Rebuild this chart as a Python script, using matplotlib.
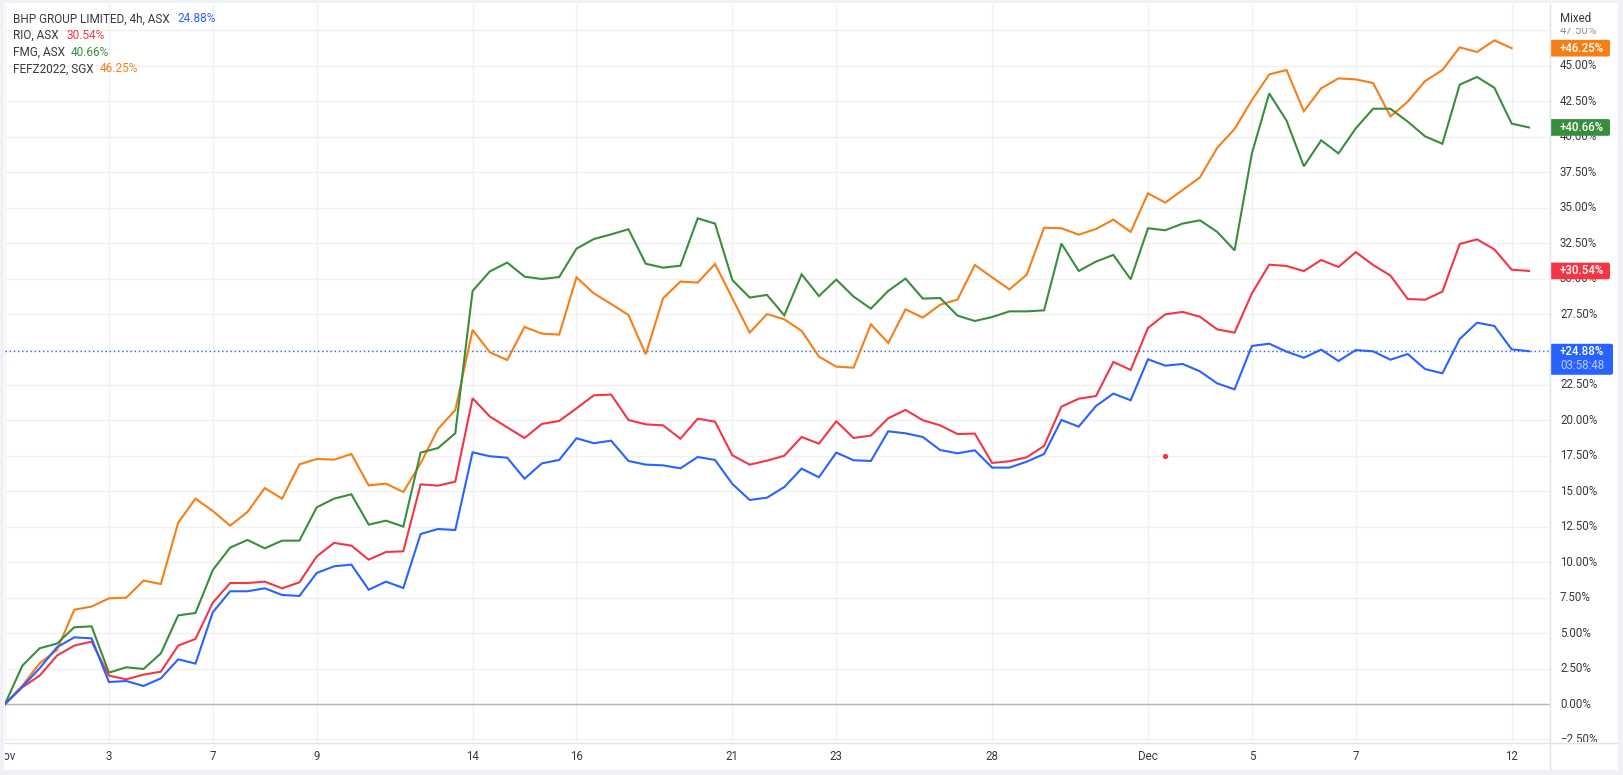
import numpy as np
import matplotlib
matplotlib.use('Agg')
import matplotlib.pyplot as plt
from matplotlib.patches import FancyBboxPatch
from matplotlib.transforms import Bbox, IdentityTransform

W, H = 1624, 775

# percent change per 4h bar
bhp = [0.0, 1.22, 2.52, 4.0, 4.70, 4.63, 1.55, 1.62, 1.27, 1.81, 3.15, 2.85, 6.47, 7.95, 7.95, 8.16, 7.69, 7.62,
       9.24, 9.71, 9.83, 8.06, 8.63, 8.18, 11.99, 12.34, 12.27, 17.75, 17.47, 17.37, 15.89, 16.97, 17.21, 18.74,
       18.39, 18.57, 17.14, 16.88, 16.83, 16.62, 17.42, 17.21, 15.52, 14.39, 14.55, 15.30, 16.60, 15.99, 17.73,
       17.19, 17.14, 19.23, 19.09, 18.83, 17.91, 17.68, 17.89, 16.67, 16.67, 17.09, 17.63, 20.03, 19.56, 21.02,
       21.89, 21.42, 24.31, 23.86, 23.98, 23.46, 22.61, 22.19, 25.25, 25.41, 24.85, 24.42, 24.99, 24.19, 24.96,
       24.87, 24.28, 24.68, 23.62, 23.32, 25.74, 26.89, 26.66, 25.01, 24.88]
rio = [0.0, 1.18, 2.0, 3.41, 4.12, 4.40, 2.0, 1.74, 2.07, 2.28, 4.12, 4.59, 7.15, 8.53, 8.53, 8.63, 8.16, 8.58,
       10.41, 11.36, 11.17, 10.18, 10.72, 10.77, 15.49, 15.40, 15.68, 21.56, 20.27, 19.51, 18.76, 19.75, 19.96,
       20.85, 21.77, 21.82, 20.03, 19.72, 19.65, 18.71, 20.12, 19.91, 17.54, 16.88, 17.16, 17.51, 18.83, 18.36,
       19.94, 18.76, 18.93, 20.15, 20.74, 20.01, 19.65, 19.04, 19.07, 17.0, 17.12, 17.40, 18.20, 20.97, 21.53,
       21.72, 24.12, 23.56, 26.52, 27.48, 27.65, 27.31, 26.42, 26.19, 28.96, 30.98, 30.89, 30.53, 31.31, 30.82,
       31.87, 30.96, 30.21, 28.56, 28.51, 29.08, 32.44, 32.77, 32.06, 30.63, 30.54]
fmg = [0.0, 2.70, 3.93, 4.26, 5.41, 5.48, 2.21, 2.59, 2.47, 3.57, 6.25, 6.42, 9.45, 11.03, 11.57, 10.98, 11.52,
       11.52, 13.87, 14.48, 14.79, 12.65, 12.93, 12.51, 17.73, 18.05, 19.09, 29.13, 30.51, 31.13, 30.14, 29.97,
       30.11, 32.11, 32.79, 33.12, 33.48, 31.05, 30.77, 30.91, 34.25, 33.88, 29.90, 28.66, 28.85, 27.41, 30.30,
       28.77, 29.93, 28.73, 27.88, 29.13, 30.0, 28.59, 28.63, 27.39, 27.01, 27.29, 27.69, 27.69, 27.76, 32.47,
       30.54, 31.20, 31.67, 29.95, 33.55, 33.41, 33.88, 34.11, 33.29, 31.99, 38.83, 43.06, 41.14, 37.92, 39.75,
       38.83, 40.60, 41.98, 41.98, 41.07, 40.03, 39.51, 43.68, 44.22, 43.46, 40.93, 40.66]
fefz = [0.0, 1.29, 2.87, 3.81, 6.65, 6.87, 7.45, 7.50, 8.70, 8.46, 12.79, 14.48, 13.61, 12.58, 13.54, 15.23, 14.48,
        16.90, 17.28, 17.23, 17.63, 15.42, 15.54, 14.95, 16.97, 19.39, 20.73, 26.38, 24.80, 24.26, 26.59, 26.12,
        26.05, 30.09, 28.96, 28.21, 27.43, 24.66, 28.61, 29.79, 29.72, 31.03, 28.61, 26.19, 27.50, 27.13, 26.31,
        24.50, 23.79, 23.72, 26.78, 25.46, 27.83, 27.25, 28.16, 28.52, 30.96, 30.09, 29.24, 30.28, 33.59, 33.55,
        33.10, 33.50, 34.16, 33.29, 36.01, 35.36, 36.25, 37.14, 39.23, 40.55, 42.59, 44.40, 44.71, 41.80, 43.42,
        44.12, 44.05, 43.79, 41.44, 42.48, 43.93, 44.71, 46.31, 45.98, 46.80, 46.25]

names = ['BHP GROUP LIMITED, 4h, ASX', 'RIO, ASX', 'FMG, ASX', 'FEFZ2022, SGX']
last_vals = [24.88, 30.54, 40.66, 46.25]
colors = ['#2962ff', '#f23645', '#388e3c', '#f57f17']

date_labels = ['Nov', '3', '7', '9', '14', '16', '21', '23', '28', 'Dec', '5', '7', '12']
date_bars = [0, 6, 12, 18, 27, 33, 42, 48, 57, 66, 72, 78, 87]
y_ticks = [-2.5, 0, 2.5, 5, 7.5, 10, 12.5, 15, 17.5, 20, 22.5, 25, 27.5, 30, 32.5, 35, 37.5, 40, 42.5, 45, 47.5]
dot_bar, dot_val = 67, 17.49

TEXT = '#131722'
GRID = '#f1f1f3'
FRAME = '#e0e3eb'
plt.rcParams['font.family'] = ['Roboto', 'DejaVu Sans']
plt.rcParams['font.size'] = 8.3


def px_axes(fig, x0, y0, x1, y1):
    # axes from pixel box, y counted from the top
    return fig.add_axes([x0 / W, 1 - y1 / H, (x1 - x0) / W, (y1 - y0) / H])


def add_tag(axr, val, height, color):
    # rounded on the right only, the left corners get clipped at the pane edge
    yc = axr.transData.transform((1550, val))[1]
    xl = axr.transData.transform((1545, val))[0]
    box = FancyBboxPatch((xl, yc - height / 2), 68 if height > 20 else 65, height,
                         boxstyle='round,pad=0,rounding_size=2', fc=color, ec='none',
                         transform=IdentityTransform(), zorder=5)
    axr.add_patch(box)
    box.set_clip_path(axr.patch)


fig = plt.figure(figsize=(W / 100, H / 100), dpi=100, facecolor='#eff1f6')

# white panel behind everything
bg = px_axes(fig, 4, 3, 1618, 770)
bg.set_xticks([])
bg.set_yticks([])
for s in bg.spines.values():
    s.set_visible(False)

px_per_pct = 14.18
zero_y = 704
x_max = (1550 - 5) / 17.318
y_top = (zero_y - 4) / px_per_pct
y_bot = (zero_y - 742) / px_per_pct

ax = px_axes(fig, 5, 4, 1550, 742)
ax.set_xlim(0, x_max)
ax.set_ylim(y_bot, y_top)
ax.set_xticks(date_bars)
ax.set_yticks(y_ticks)
ax.tick_params(length=0, labelbottom=False, labelleft=False)
ax.grid(True, color=GRID, lw=1)
ax.set_axisbelow(True)
for s in ax.spines.values():
    s.set_visible(False)

ax.axhline(0, color='#b2b5be', lw=1, zorder=2)
ax.axhline(last_vals[0], color=colors[0], lw=1, ls=(0, (1, 2)), zorder=2)

for series, c in zip([fefz, fmg, rio, bhp], colors[::-1]):
    ax.plot(np.arange(len(series)), series, color=c, lw=1.5, zorder=3, solid_joinstyle='miter')
ax.plot([dot_bar], [dot_val], 'o', color='#f23645', ms=2.8, zorder=4)

# legend, top left
row_y = [19, 35.5, 52, 69]
val_x = [177, 66.5, 71, 99.5]
for name, val, c, y, vx in zip(names, last_vals, colors, row_y, val_x):
    fig.text(13 / W, 1 - y / H, name, color=TEXT, va='center', ha='left', alpha=0.85, fontsize=8.5)
    fig.text(vx / W, 1 - y / H, f'{val:.2f}%', color=c, va='center', ha='left', fontsize=8.5)

# price scale on the right
axr = px_axes(fig, 1550, 27, 1618, 742)
axr.set_xlim(1550, 1618)
axr.set_ylim(y_bot, (zero_y - 27) / px_per_pct)
axr.axis('off')
for t in y_ticks:
    lab = axr.text(1560, t, f'{t:.2f}%'.replace('-', '\u2212'), color=TEXT, va='center', ha='left',
                   alpha=0.85, clip_on=True)
    if t == 47.5:
        # top label fades out under the "Mixed" caption
        lab.set_alpha(0.45)
        lab.set_clip_box(Bbox([[1550, H - 33.5], [1618, H - 28]]))

# last value tags, blue one also carries the countdown
for val, c in zip(last_vals[1:], colors[1:]):
    add_tag(axr, val, 16.7, c)
    axr.text(1582, val, f'+{val:.2f}%', color='white', va='center', ha='center', zorder=6,
             fontweight='medium')
val = last_vals[0]
add_tag(axr, val - 0.57, 31, colors[0])
axr.text(1582, val - 0.05, f'+{val:.2f}%', color='white', va='center', ha='center', zorder=6,
         fontweight='medium')
axr.text(1582, val - 1.02, '03:58:48', color='#b9cbff', va='center', ha='center', zorder=6)

fig.text(1560 / W, 1 - 18 / H, 'Mixed', color=TEXT, va='center', ha='left', alpha=0.85)

# date axis along the bottom
axb = px_axes(fig, 5, 742, 1550, 770)
axb.set_xlim(0, x_max)
axb.set_ylim(0, 1)
axb.axis('off')
for b, lab in zip(date_bars, date_labels):
    axb.text(b, 0.5, lab, color=TEXT, va='center', ha='center', alpha=0.85, clip_on=True)

# separators between the panes
fig.add_artist(plt.Line2D([5 / W, 1618 / W], [1 - 742.5 / H, 1 - 742.5 / H], color=FRAME, lw=1))
fig.add_artist(plt.Line2D([1550.5 / W, 1550.5 / W], [1 - 4 / H, 1 - 770 / H], color=FRAME, lw=1))

fig.savefig('out.png', dpi=100, facecolor=fig.get_facecolor())
